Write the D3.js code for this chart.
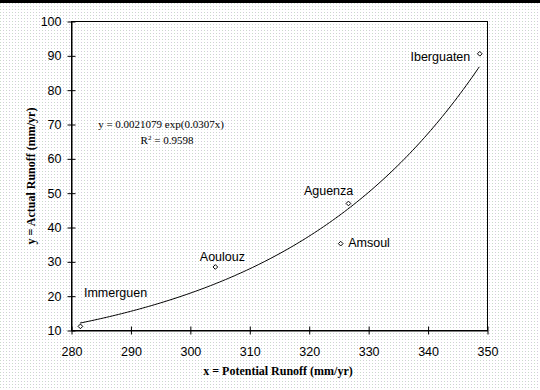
<!DOCTYPE html>
<html>
<head>
<meta charset="utf-8">
<script src="https://cdn.jsdelivr.net/npm/d3@7"></script>
<style>
  body { margin: 0; background: #fff; }
  svg { display: block; }
</style>
</head>
<body>
<script>
// data
const stations = ["Immerguen", "Aoulouz", "Amsoul", "Aguenza", "Iberguaten"];
const potentialRunoff = [281.5, 304.2, 325.3, 326.6, 348.7];
const actualRunoff = [11.2, 28.5, 35.3, 47.0, 90.6];
const xTicks = [280, 290, 300, 310, 320, 330, 340, 350];
const yTicks = [10, 20, 30, 40, 50, 60, 70, 80, 90, 100];
const equationText = "y = 0.0021079 exp(0.0307x)";
const r2Value = "0.9598";

// label placement relative to each marker (layout only)
const labelOffsets = [
  { dx: 4, dy: -29, anchor: "start" },
  { dx: -15, dy: -5, anchor: "start" },
  { dx: 8, dy: 4, anchor: "start" },
  { dx: -44, dy: -8, anchor: "start" },
  { dx: -9, dy: 8, anchor: "end" }
];

const width = 540;
const height = 390;
const plot = { left: 71, right: 487, top: 21, bottom: 330 };
const sans = "'Liberation Sans', Arial, sans-serif";
const serif = "'Liberation Serif', 'Times New Roman', serif";

const svg = d3.select("body").append("svg")
  .attr("width", width)
  .attr("height", height);

// dithered background
const pat = svg.append("defs").append("pattern")
  .attr("id", "dots")
  .attr("width", 6).attr("height", 3)
  .attr("patternUnits", "userSpaceOnUse");
pat.append("rect").attr("width", 6).attr("height", 3).attr("fill", "#ffffff");
pat.append("rect").attr("x", 0).attr("y", 0).attr("width", 1).attr("height", 1).attr("fill", "#c9dcc9");
pat.append("rect").attr("x", 3).attr("y", 0).attr("width", 1).attr("height", 1).attr("fill", "#d3cbdc");
svg.append("rect").attr("width", width).attr("height", height).attr("fill", "url(#dots)");

// top black bar
svg.append("rect").attr("x", 0).attr("y", 0).attr("width", width).attr("height", 3).attr("fill", "#000");

const x = d3.scaleLinear().domain([280, 350]).range([plot.left, plot.right]);
const y = d3.scaleLinear().domain([10, 100]).range([plot.bottom, plot.top]);

// plot frame
svg.append("rect")
  .attr("x", plot.left + 0.5).attr("y", plot.top + 0.5)
  .attr("width", plot.right - plot.left).attr("height", plot.bottom - plot.top)
  .attr("fill", "none").attr("stroke", "#000").attr("stroke-width", 1);

// x axis (ticks cross the line)
const xAxis = svg.append("g")
  .attr("transform", `translate(0.5,${plot.bottom + 0.5})`)
  .call(d3.axisBottom(x).tickValues(xTicks).tickSizeInner(4).tickSizeOuter(0).tickPadding(13));
xAxis.select(".domain").attr("stroke", "#000");
xAxis.selectAll(".tick line").attr("y1", -4).attr("y2", 4).attr("stroke", "#000");
xAxis.selectAll(".tick text")
  .attr("font-family", sans).attr("font-size", 12.5).attr("fill", "#000");

const yAxis = svg.append("g")
  .attr("transform", `translate(${plot.left + 0.5},0.5)`)
  .call(d3.axisLeft(y).tickValues(yTicks).tickSizeInner(4).tickSizeOuter(0).tickPadding(6));
yAxis.select(".domain").attr("stroke", "#000");
yAxis.selectAll(".tick line").attr("x1", -4).attr("x2", 4).attr("stroke", "#000");
yAxis.selectAll(".tick text")
  .attr("font-family", sans).attr("font-size", 12.5).attr("fill", "#000");

// exponential trendline fitted to the points (log-linear least squares)
const lnY = actualRunoff.map(Math.log);
const mx = d3.mean(potentialRunoff);
const my = d3.mean(lnY);
const sxy = d3.sum(potentialRunoff, (v, i) => (v - mx) * (lnY[i] - my));
const sxx = d3.sum(potentialRunoff, (v) => (v - mx) * (v - mx));
const b = sxy / sxx;
const a = Math.exp(my - b * mx);
const [xmin, xmax] = d3.extent(potentialRunoff);
const trend = d3.range(xmin, xmax, 0.5).concat([xmax]).map((v) => [v, a * Math.exp(b * v)]);

svg.append("path")
  .datum(trend)
  .attr("fill", "none")
  .attr("stroke", "#000")
  .attr("stroke-width", 1)
  .attr("d", d3.line().x((d) => x(d[0])).y((d) => y(d[1])));

// markers
const sym = d3.symbol().type(d3.symbolDiamond2).size(14);
svg.append("g")
  .selectAll("path")
  .data(stations)
  .join("path")
  .attr("transform", (d, i) => `translate(${x(potentialRunoff[i]) + 0.5},${y(actualRunoff[i]) + 0.5})`)
  .attr("d", sym)
  .attr("fill", "#fff")
  .attr("stroke", "#000")
  .attr("stroke-width", 1);

// point labels
svg.append("g")
  .selectAll("text")
  .data(stations)
  .join("text")
  .attr("x", (d, i) => x(potentialRunoff[i]) + labelOffsets[i].dx)
  .attr("y", (d, i) => y(actualRunoff[i]) + labelOffsets[i].dy)
  .attr("text-anchor", (d, i) => labelOffsets[i].anchor)
  .attr("font-family", sans)
  .attr("font-size", 12.5)
  .attr("fill", "#000")
  .text((d) => d);

// equation
svg.append("text")
  .attr("x", 161).attr("y", 128)
  .attr("text-anchor", "middle")
  .attr("font-family", serif).attr("font-size", 11)
  .text(equationText);
const r2 = svg.append("text")
  .attr("x", 167).attr("y", 144)
  .attr("text-anchor", "middle")
  .attr("font-family", serif).attr("font-size", 11);
r2.append("tspan").text("R");
r2.append("tspan").attr("font-size", 7).attr("dy", -4).text("2");
r2.append("tspan").attr("dy", 4).text(" = " + r2Value);

// axis titles
svg.append("text")
  .attr("x", 278).attr("y", 375)
  .attr("text-anchor", "middle")
  .attr("font-family", serif).attr("font-size", 12).attr("font-weight", "bold")
  .text("x = Potential Runoff (mm/yr)");
svg.append("text")
  .attr("transform", "translate(35,176) rotate(-90)")
  .attr("text-anchor", "middle")
  .attr("font-family", serif).attr("font-size", 12).attr("font-weight", "bold")
  .text("y = Actual Runoff (mm/yr)");
</script>
</body>
</html>
